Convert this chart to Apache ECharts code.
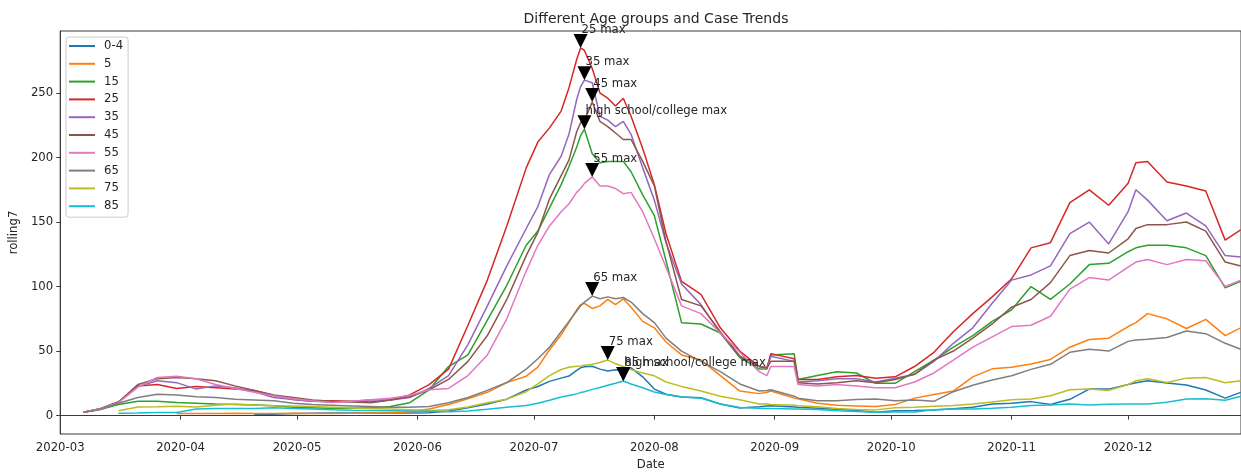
<!DOCTYPE html>
<html>
<head>
<meta charset="utf-8">
<script src="https://cdn.jsdelivr.net/npm/echarts@6/dist/echarts.min.js"></script>
<style>
html,body{margin:0;padding:0;background:#fff;}
#chart{width:1241px;height:476px;}
</style>
</head>
<body>
<div id="chart"></div>
<script>
// ---- data ----
const dates = ['2020-03-07','2020-03-11','2020-03-16','2020-03-21','2020-03-26','2020-03-31','2020-04-05','2020-04-10','2020-04-15','2020-04-20','2020-04-25','2020-04-30','2020-05-05','2020-05-10','2020-05-15','2020-05-20','2020-05-25','2020-05-30','2020-06-04','2020-06-09','2020-06-14','2020-06-19','2020-06-24','2020-06-29','2020-07-02','2020-07-05','2020-07-08','2020-07-10','2020-07-12','2020-07-13','2020-07-14','2020-07-16','2020-07-18','2020-07-20','2020-07-22','2020-07-24','2020-07-26','2020-07-29','2020-08-01','2020-08-04','2020-08-08','2020-08-13','2020-08-18','2020-08-23','2020-08-28','2020-08-30','2020-08-31','2020-09-06','2020-09-07','2020-09-12','2020-09-17','2020-09-22','2020-09-27','2020-10-02','2020-10-07','2020-10-12','2020-10-17','2020-10-22','2020-10-27','2020-11-01','2020-11-06','2020-11-11','2020-11-16','2020-11-21','2020-11-26','2020-12-01','2020-12-03','2020-12-06','2020-12-11','2020-12-16','2020-12-21','2020-12-26','2020-12-30'];

const age0_4 = [null,null,null,null,null,null,null,null,null,1.1,1.1,1.5,1.8,2,2,2,2,2,2.2,3.5,6,9,12.7,19.8,22.5,26.5,29,30.6,35,37,37.8,38.2,36,34.6,35.5,35,37,30,20.5,16.5,14.3,13.8,9,5.9,6.8,7.4,7.6,6.6,6.4,5.6,4.8,3.9,2.5,3.8,4,4.4,5.2,6.4,9,9.5,10.8,8.5,12.6,20.5,20.5,24,25.5,26.9,25.3,23.7,19.8,13.5,18];
const age5 = [null,null,null,null,null,1.6,1.6,1.6,1.8,1.6,1.6,1.8,1.5,1.5,1.7,2,2.2,3,5,8.5,13,18,25.5,30.5,37.5,51,62.5,72,82,86,87,83,85,90,86,90.5,84,73,68,57,47,43,31,19,17,18,19,13.5,13,9.5,8,7.5,7,8.5,13.5,16.4,19,30,36.2,37.5,40,43.5,53,59,60,69,72,79,75,67.5,74.6,62,68];
const age15 = [2.5,4.5,8.5,11,11,10.2,9.6,9,8.6,8.1,7.6,6.5,6,5.5,5.8,6.2,7,10,20,38,47,74,101,132,143,161,179,193,208,217,222,203,196,197,197,197,189,171,155,120,72,71,64,45,36,36,47,48,28,31,34,33,25,25,34,43,53,62,73,82,100,90,102,117,118,127,130,132,132,130,124,99,104];
const age25 = [2.5,5,10.5,23,24,21,22.5,21.5,20.5,19.5,15.5,12.5,11,11.5,11,10.5,12,16,24,36,70,105,147,192,212,223,236,254,276,285,283,269,250,246,240,246,232,207,179,141,104,94,68,50,38,37,48,44,28,28,30,31,29,30,38,49,65,79,92,106,130,134,165,175,163,180,196,197,181,178,174,136,144];
const age35 = [2.5,5,10.5,22.5,27,25.5,20.5,23,21.5,18.5,14,12.5,11,10.5,11,12,12,14,21,31,55,85,116,145,162,187,201,218,245,255,260,258,232,229,224,228,218,192,167,134,102,86,64,46,38,37,46,42,26,27,28.5,28.5,26,29,32,42,56,68,87,105,109,116,141,150,133,158,175,167,151,157,147,124,123];
const age45 = [2.5,5,10.5,24,28.5,29.5,28.5,27,23,19.5,16,14,12,11,10.5,10,12,14.5,20,28,42,62,90,124,142,168,186,198,220,227,229,243,228,224,219,214,214,197,178,135,90,85,65,46,38,37,42,42,25.5,24.5,25.5,27,25.5,28,32,43,50,60,71,84,90,103,124,128,126,137,145,148,148,150,143,119,116];
const age55 = [2.5,5,10,22,29.5,30.5,28.5,24,21,18,15.3,13,11.4,10.2,11,12.2,13.5,15.5,20,21,31,47,75,112,132,147,158,164,173,176,180,185,178,178,176,172,173,158,137,115,85,79,64,49,34,31,38,38,24,23,24,23,21.5,21.5,26,33,43,53,61,69,70,77,98,107,105,115,119,121,117,121,120,100,105];
const age65 = [2.5,4.5,9.5,14,16.5,16,14.5,14,12.6,12,11.4,9.5,8.5,8,7.5,7,6.5,6.5,7,10,14,19.5,25.6,36,44,53,65,73,81,85,88,92.6,90.5,92,90.5,91.5,88,79,72,60,50,42,34,24.5,19,19.5,20,15,13.5,11.5,11.5,12.5,12.8,11.5,12,11,18.5,23.5,27.5,30.8,35.8,39.7,49,51.4,50,57.5,58.5,59.2,60.5,65.5,63.5,56,51.4];
const age75 = [null,null,3.7,6.6,6.8,7.3,6.6,8,9,8.1,7.6,7.5,7,6.5,6,5.5,5,4.5,4,4.5,6.6,10,12.7,18.5,24.5,31,35.7,37.5,38.2,38.5,39,39.7,41.1,43,40.2,38,35.6,33,30.8,26,22.6,19,15,12.3,9,9,8.5,8,7.6,6.8,5.5,4.6,4.4,6,6.4,7.2,7.8,9,10.5,12.2,12.8,15.3,20,20.5,19.5,24,27,28.5,25.6,29,29.5,25.5,26.9];
const age85 = [null,null,1.8,1.9,2.4,2.4,5,5.5,5.5,5.5,6.1,5.5,5,4.5,4.2,4,3.8,3.5,3.3,3,3.5,4.8,6.4,7.8,9.5,11.8,14.4,15.6,16.8,17.8,18.5,20.3,21.7,23.5,25,26.8,24.5,21.5,18.2,16.3,14.3,13.5,9,6.2,5.6,5.5,5.4,5.1,5.1,4.6,3.8,3.2,2.5,2.7,2.7,4.5,5,5,5.7,6.5,7.7,8.1,9,8.2,8.7,9,9,9,10.3,12.8,13,11.8,14.9];

const groupNames = ['0-4','5','15','25','35','45','55','65','75','85'];
const groupValues = [age0_4, age5, age15, age25, age35, age45, age55, age65, age75, age85];
const maxAnnotations = {
  '15': ['high school/college max'],
  '25': ['25 max'],
  '35': ['35 max'],
  '45': ['45 max'],
  '55': ['55 max'],
  '65': ['65 max'],
  '75': ['75 max'],
  '85': ['85 max', 'high school/college max']
};
const yTicks = [0, 50, 100, 150, 200, 250];
const monthTicks = ['2020-03-01','2020-04-01','2020-05-01','2020-06-01','2020-07-01','2020-08-01','2020-09-01','2020-10-01','2020-11-01','2020-12-01'];

// ---- styling ----
const colors = ['#1f77b4','#ff7f0e','#2ca02c','#d62728','#9467bd','#8c564b','#e377c2','#7f7f7f','#bcbd22','#17becf'];
const FONT = 'DejaVu Sans';
const TXT = '#262626';
const AX = '#3a3a3a';

function parseLocal(s){ const p = s.split('-').map(Number); return new Date(p[0], p[1]-1, p[2]).getTime(); }
const DAY = 86400000;
const xMin = parseLocal('2020-03-01');
const xMax = xMin + 304.07 * DAY;
const monthTickVals = monthTicks.map(parseLocal);
const dateVals = dates.map(parseLocal);

const series = groupNames.map((name, i) => {
  const s = {
    name: name,
    type: 'line',
    data: dateVals.map((d, k) => [d, groupValues[i][k]]),
    showSymbol: false,
    symbol: 'none',
    lineStyle: { width: 1.5, color: colors[i] },
    itemStyle: { color: colors[i] },
    connectNulls: false,
    z: 2 + i
  };
  if (maxAnnotations[name]) {
    s.markPoint = {
      symbol: 'path://M0,0 L14,0 L7,14 Z',
      symbolSize: [14, 14],
      symbolOffset: [0, -7],
      itemStyle: { color: '#000' },
      label: {
        show: true,
        position: [8, -4],
        align: 'left',
        verticalAlign: 'middle',
        fontFamily: FONT,
        fontSize: 11.7,
        color: TXT,
        formatter: p => p.name
      },
      data: maxAnnotations[name].map(t => ({ type: 'max', name: t })),
      z: 50
    };
  }
  return s;
});

const chart = echarts.init(document.getElementById('chart'), null, { renderer: 'canvas' });
chart.setOption({
  animation: false,
  color: colors,
  title: {
    text: 'Different Age groups and Case Trends',
    left: 651,
    top: 7,
    textAlign: 'center',
    textStyle: { fontFamily: FONT, fontSize: 14, fontWeight: 'normal', color: TXT }
  },
  legend: {
    orient: 'vertical',
    left: 66,
    top: 37,
    icon: 'rect',
    itemWidth: 26,
    itemHeight: 2,
    itemGap: 3.8,
    padding: [2, 5, 4, 3],
    borderColor: '#cccccc',
    borderWidth: 1,
    borderRadius: 3,
    backgroundColor: 'rgba(255,255,255,0.8)',
    textStyle: { fontFamily: FONT, fontSize: 11.7, color: TXT, lineHeight: 14, padding: [0, 0, 0, 4] },
    data: groupNames
  },
  grid: {
    left: 60, top: 31, right: -1, bottom: 42,
    show: true, borderColor: AX, borderWidth: 1, backgroundColor: 'transparent'
  },
  xAxis: {
    type: 'value',
    min: xMin,
    max: xMax,
    name: 'Date',
    nameLocation: 'middle',
    nameGap: 24,
    nameTextStyle: { fontFamily: FONT, fontSize: 11.7, color: TXT },
    axisLine: { show: true, lineStyle: { color: AX, width: 1 } },
    axisTick: { show: true, length: 4, lineStyle: { color: AX }, customValues: monthTickVals },
    axisLabel: {
      fontFamily: FONT, fontSize: 11.7, color: TXT, margin: 8,
      customValues: monthTickVals,
      formatter: function (v) {
        const d = new Date(v);
        const m = d.getMonth() + 1;
        return d.getFullYear() + '-' + (m < 10 ? '0' + m : m);
      }
    },
    splitLine: { show: false }
  },
  yAxis: {
    type: 'value',
    min: -14.3,
    max: 298.1,
    name: 'rolling7',
    nameLocation: 'middle',
    nameGap: 32,
    nameTextStyle: { fontFamily: FONT, fontSize: 11.7, color: TXT },
    axisLine: { show: true, lineStyle: { color: AX, width: 1 } },
    axisTick: { show: true, length: 4, lineStyle: { color: AX }, customValues: yTicks },
    axisLabel: { fontFamily: FONT, fontSize: 11.7, color: TXT, margin: 7, customValues: yTicks },
    splitLine: { show: false }
  },
  series: series
});
</script>
</body>
</html>
